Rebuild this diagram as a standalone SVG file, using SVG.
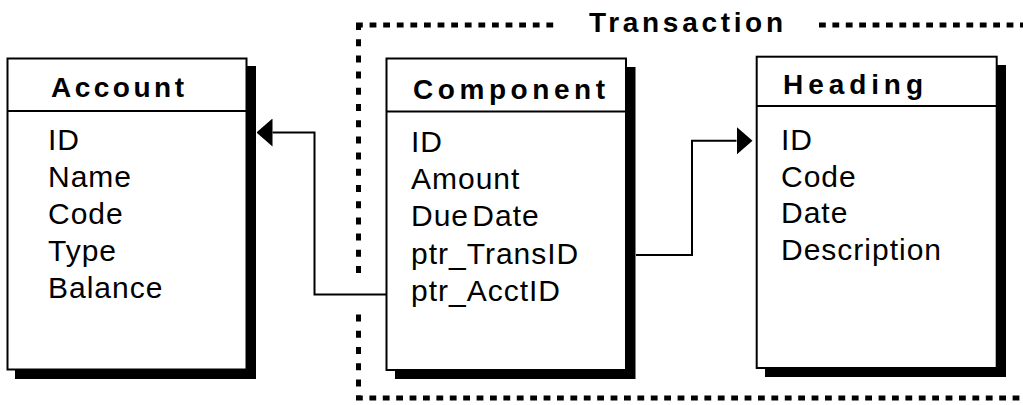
<svg xmlns="http://www.w3.org/2000/svg" width="1023" height="405" viewBox="0 0 1023 405">
<style>
.box{fill:#fff;stroke:#000;stroke-width:2}
.shadow{fill:#000}
.div{stroke:#000;stroke-width:2}
.title{font-family:"Liberation Sans",Arial,sans-serif;font-weight:bold;font-size:28px;fill:#000}
.field{font-family:"Liberation Sans",Arial,sans-serif;font-size:30px;letter-spacing:1px;fill:#000}
.conn{fill:none;stroke:#000;stroke-width:2}
.dash{fill:none;stroke:#000;stroke-width:5}
</style>
<defs>
<marker id="arrow" markerUnits="userSpaceOnUse" markerWidth="16" markerHeight="28" viewBox="0 0 16 28" refX="0" refY="14" orient="auto">
<path d="M0,0 L16,14 L0,28 Z" fill="#000"/>
</marker>
</defs>

<g id="transaction">
<line class="dash" x1="356" y1="25" x2="555" y2="25" stroke-dasharray="6.8 6.8"/>
<line class="dash" x1="819" y1="25" x2="1023" y2="25" stroke-dasharray="6.8 6.6"/>
<line class="dash" x1="358.5" y1="23" x2="358.5" y2="274" stroke-dasharray="7 9.2"/>
<line class="dash" x1="358.5" y1="314.6" x2="358.5" y2="400" stroke-dasharray="7 9.2"/>
<line class="dash" x1="356" y1="398" x2="1023" y2="398" stroke-dasharray="6.8 6.6"/>
<text class="title" x="589" y="32" textLength="194" lengthAdjust="spacing">Transaction</text>
</g>

<g id="account">
<rect class="shadow" x="15" y="66" width="241" height="313"/>
<rect class="box" x="7.5" y="58.5" width="239" height="311"/>
<line class="div" x1="8" y1="111" x2="246" y2="111"/>
<text class="title" x="51" y="97" textLength="133" lengthAdjust="spacing">Account</text>
<text class="field" x="48" y="150">ID</text>
<text class="field" x="48" y="187.3">Name</text>
<text class="field" x="48" y="224.4">Code</text>
<text class="field" x="48" y="261.4">Type</text>
<text class="field" x="48" y="298.4">Balance</text>
</g>

<g id="component">
<rect class="shadow" x="395" y="67" width="240.5" height="312"/>
<rect class="box" x="386.5" y="58.5" width="239.5" height="311.5"/>
<line class="div" x1="387" y1="111.5" x2="625" y2="111.5"/>
<text class="title" x="413" y="99" textLength="192" lengthAdjust="spacing">Component</text>
<text class="field" x="411" y="151.7">ID</text>
<text class="field" x="411" y="189">Amount</text>
<text class="field" x="411" y="226.2" word-spacing="-6">Due Date</text>
<text class="field" x="411" y="263.5">ptr_TransID</text>
<text class="field" x="411" y="300.7">ptr_AcctID</text>
</g>

<g id="heading">
<rect class="shadow" x="765" y="65" width="241" height="312"/>
<rect class="box" x="756.7" y="56.7" width="240" height="311.3"/>
<line class="div" x1="757" y1="106" x2="996" y2="106"/>
<text class="title" x="783" y="94" textLength="140" lengthAdjust="spacing">Heading</text>
<text class="field" x="781" y="150">ID</text>
<text class="field" x="781" y="186.8">Code</text>
<text class="field" x="781" y="223.4">Date</text>
<text class="field" x="781" y="260.2">Description</text>
</g>

<g id="connectors">
<path class="conn" d="M386,294.5 H314.5 V132.5 H272.5" marker-end="url(#arrow)"/>
<path class="conn" d="M636,255 H692 V140.7 H736.5" marker-end="url(#arrow)"/>
</g>
</svg>
